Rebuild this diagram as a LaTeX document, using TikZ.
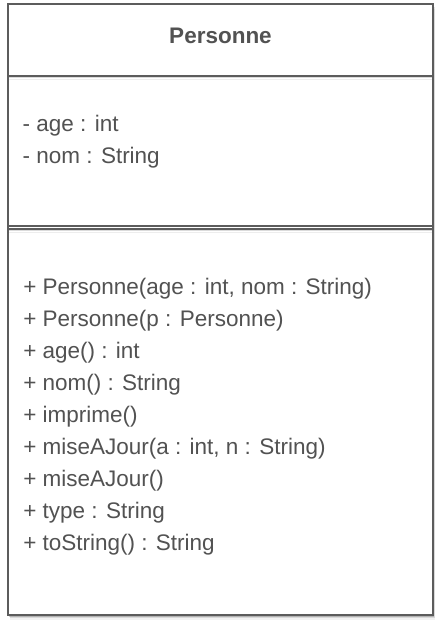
\documentclass[tikz,border=0pt]{standalone}
\usepackage{fontspec}
\setmainfont{Liberation Sans}
\usepackage{xcolor}
\definecolor{umlline}{RGB}{92,92,92}
\definecolor{umltext}{RGB}{82,82,82}
\usetikzlibrary{positioning}

\tikzset{
  member/.style={anchor=base west, inner sep=0pt, text=umltext, font=\fontsize{16}{19}\selectfont},
  title/.style={anchor=base, inner sep=0pt, text=umltext, font=\fontsize{16}{19}\selectfont\bfseries},
  boxline/.style={draw=umlline, line width=1.4pt}
}

\begin{document}
\begin{tikzpicture}
  \useasboundingbox (0,0) rectangle (11.025,15.725);

  % box shadow
  \foreach \o/\op in {0.04/0.18, 0.08/0.10, 0.12/0.05}
    \fill[black, opacity=\op] (0.2+\o*0.5,0.35-\o) rectangle (10.825+\o*0.5,15.625-\o);
  \fill[white] (0.2,0.35) rectangle (10.825,15.625);

  % separator shadows
  \foreach \o/\op in {0.03/0.14, 0.07/0.07}
  {
    \fill[black, opacity=\op] (0.2,13.825-\o) rectangle (10.825,13.825-\o-0.03);
    \fill[black, opacity=\op] (0.2,10.005-\o) rectangle (10.825,10.005-\o-0.03);
  }

  % outer frame
  \draw[boxline] (0.2,0.35) rectangle (10.825,15.625);

  % separators
  \draw[boxline] (0.2,13.825) -- (10.825,13.825);
  \draw[boxline] (0.2,10.085) -- (10.825,10.085);
  \draw[boxline] (0.2,10.005) -- (10.825,10.005);

  % class name
  \node[title] (name) at (5.5125,14.6425) {Personne};

  % attributes
  \node[member] (attrAge) at (0.56,12.425) {- age : int};
  \node[member] (attrNom) at (0.56,11.625) {- nom : String};

  % operations
  \node[member] (opCtor)     at (0.575,8.35) {+ Personne(age : int, nom : String)};
  \node[member] (opCopy)     at (0.575,7.55) {+ Personne(p : Personne)};
  \node[member] (opAge)      at (0.575,6.75) {+ age() : int};
  \node[member] (opNom)      at (0.575,5.95) {+ nom() : String};
  \node[member] (opImprime)  at (0.575,5.15) {+ imprime()};
  \node[member] (opMajArgs)  at (0.575,4.35) {+ miseAJour(a : int, n : String)};
  \node[member] (opMaj)      at (0.575,3.55) {+ miseAJour()};
  \node[member] (opType)     at (0.575,2.75) {+ type : String};
  \node[member] (opToString) at (0.575,1.95) {+ toString() : String};
\end{tikzpicture}
\end{document}
